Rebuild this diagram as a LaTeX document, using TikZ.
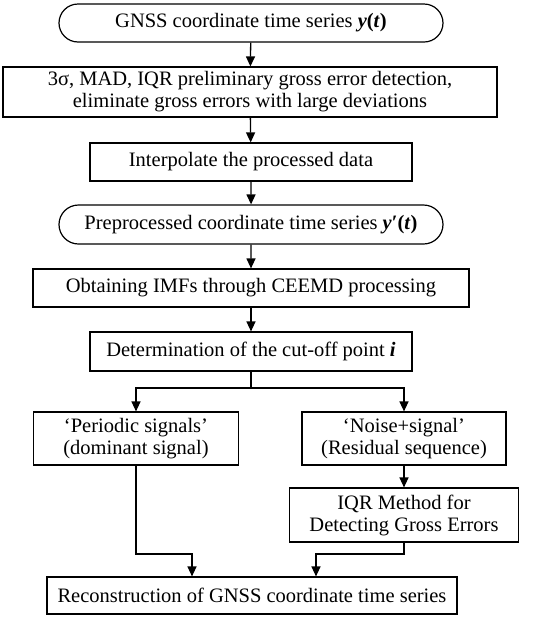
\documentclass[tikz,border=0pt]{standalone}
\usepackage{fontspec}
\setmainfont{Liberation Serif}
\usepackage{tikz}
\usetikzlibrary{shapes.misc, arrows.meta, positioning, calc}

\begin{document}
\begin{tikzpicture}[x=1pt, y=-1pt,
      box/.style={draw, line width=1.2pt, rectangle, inner sep=2pt,
                  font=\fontsize{20.5}{22}\selectfont, align=center},
      term/.style={box, rounded rectangle},
      arr/.style={-{Triangle[length=10pt, width=9pt]}, line width=1.3pt}
    ]
      \useasboundingbox (0,0) rectangle (550,622);
      \node[term, minimum width=388pt, minimum height=38pt] (gnss) at (251,23)
        {GNSS coordinate time series \textbf{\textit{y}(\textit{t})}};
      \node[box, minimum width=494pt, minimum height=50pt] (prelim) at (250,92)
        {3σ, MAD, IQR preliminary gross error detection,\\eliminate gross errors with large deviations};
      \node[box, minimum width=322pt, minimum height=38pt] (interp) at (251,162)
        {Interpolate the processed data};
      \node[term, minimum width=388pt, minimum height=39pt] (prep) at (251,224.5)
        {Preprocessed coordinate time series \textbf{\textit{y}′(\textit{t})}};
      \node[box, minimum width=436pt, minimum height=38pt] (imf) at (251,288)
        {Obtaining IMFs through CEEMD processing};
      \node[box, minimum width=322pt, minimum height=39pt] (cut) at (251,351.5)
        {Determination of the cut-off point \textbf{\textit{i}}};
      \node[box, minimum width=205pt, minimum height=53pt] (periodic) at (136,438.5)
        {‘Periodic signals’\\(dominant signal)};
      \node[box, minimum width=204pt, minimum height=53pt] (noise) at (404,438.5)
        {‘Noise+signal’\\(Residual sequence)};
      \node[box, minimum width=229pt, minimum height=54pt] (iqr) at (404,515)
        {IQR Method for\\Detecting Gross Errors};
      \node[box, minimum width=410pt, minimum height=37pt] (recon) at (252,595.5)
        {Reconstruction of GNSS coordinate time series};

      \coordinate (split) at (251,388);
      \coordinate (joinl) at (192,554);
      \coordinate (joinr) at (316,554);

      \draw[arr] (gnss) -- (prelim);
      \draw[arr] (prelim) -- (interp);
      \draw[arr] (interp) -- (prep);
      \draw[arr] (prep) -- (imf);
      \draw[arr] (imf) -- (cut);
      \draw[line width=1.3pt] (cut) -- (split);
      \draw[arr] (split) -| (periodic);
      \draw[arr] (split) -| (noise);
      \draw[arr] (noise) -- (iqr);
      \draw[arr] (periodic) |- (joinl) -- (joinl |- recon.north);
      \draw[arr] (iqr) |- (joinr) -- (joinr |- recon.north);
    \end{tikzpicture}
\end{document}
